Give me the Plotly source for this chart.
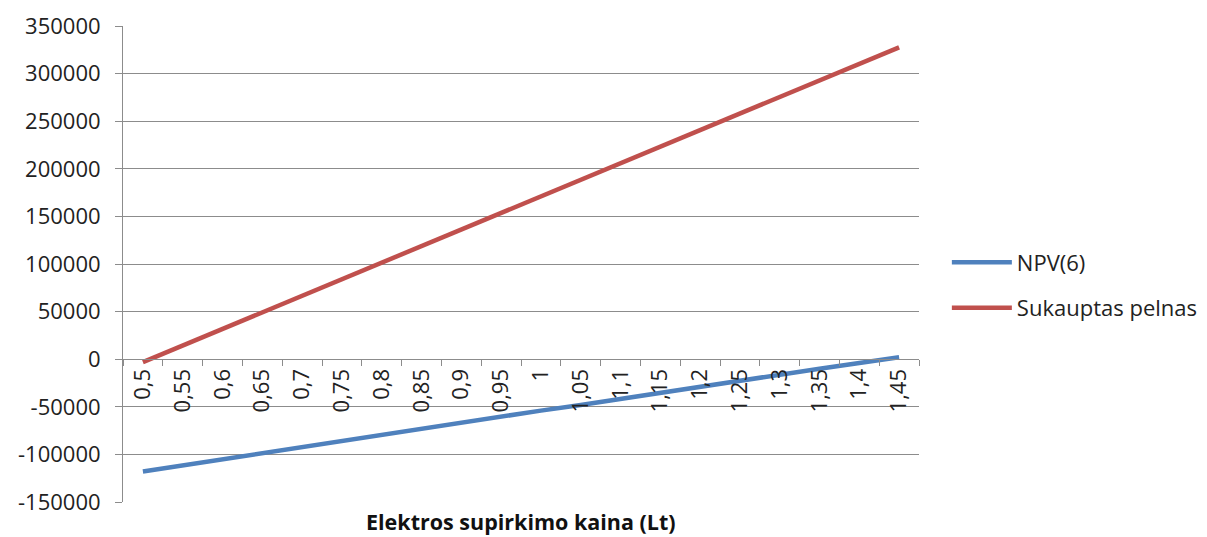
import plotly.graph_objects as go

kaina = ['0,5', '0,55', '0,6', '0,65', '0,7', '0,75', '0,8', '0,85', '0,9', '0,95',
         '1', '1,05', '1,1', '1,15', '1,2', '1,25', '1,3', '1,35', '1,4', '1,45']
npv6 = [-118000, -111500, -105000, -98500, -92500, -86000, -79500, -73000, -67000, -60500,
        -54000, -48000, -41500, -35000, -29000, -22500, -16000, -10000, -4000, 2000]
pelnas = [-3000, 14400, 31800, 49200, 66600, 84000, 101400, 118800, 136200, 153600,
          171000, 188400, 205800, 223200, 240600, 258000, 275400, 292800, 310200, 327600]
y_ticks = [-150000, -100000, -50000, 0, 50000, 100000, 150000, 200000, 250000, 300000, 350000]

font = 'Open Sans, Liberation Sans, sans-serif'
grid = '#8c8c8c'

fig = go.Figure()
fig.add_trace(go.Scatter(x=kaina, y=npv6, mode='lines', name='NPV(6)', legendgroup='a',
                         line=dict(color='#4F81BD', width=4.5)))
fig.add_trace(go.Scatter(x=kaina, y=pelnas, mode='lines', name='Sukauptas pelnas', legendgroup='b',
                         line=dict(color='#C0504D', width=4.5)))

# page body has an 8px margin, so the figure is a bit smaller than the window
fig.update_layout(
    width=1199, height=529,
    margin=dict(l=115, r=288, t=18, b=35, autoexpand=False),
    paper_bgcolor='white', plot_bgcolor='white',
    font=dict(family=font, size=22, color='#222'),
    showlegend=True,
    legend=dict(x=1.035, y=0.455, xanchor='left', yanchor='middle', itemwidth=60,
                font=dict(size=22, color='#222'), tracegroupgap=14,
                bgcolor='rgba(0,0,0,0)'),
    xaxis=dict(type='category', anchor='free', position=0.3, range=[-0.5, 19.5],
               automargin=False,
               showgrid=False, showline=True, linecolor=grid, linewidth=1,
               ticks='outside', tickson='boundaries', ticklen=6, tickcolor=grid,
               tickangle=-90, tickfont=dict(size=22, color='#222')),
    yaxis=dict(range=[-150000, 350000], tickvals=y_ticks, ticktext=[str(v) for v in y_ticks],
               automargin=False, showgrid=True,
               gridcolor=grid, gridwidth=1, zeroline=False,
               showline=True, linecolor=grid, linewidth=1,
               ticks='outside', ticklen=7, tickcolor=grid, ticklabelstandoff=10,
               tickfont=dict(size=22, color='#222')),
    annotations=[dict(text='<b>Elektros supirkimo kaina (Lt)</b>', xref='paper', yref='paper',
                      x=0.5, y=-0.042, xanchor='center', yanchor='middle', showarrow=False,
                      font=dict(size=21.5, color='#111'))],
)

fig.write_html('out.html')
